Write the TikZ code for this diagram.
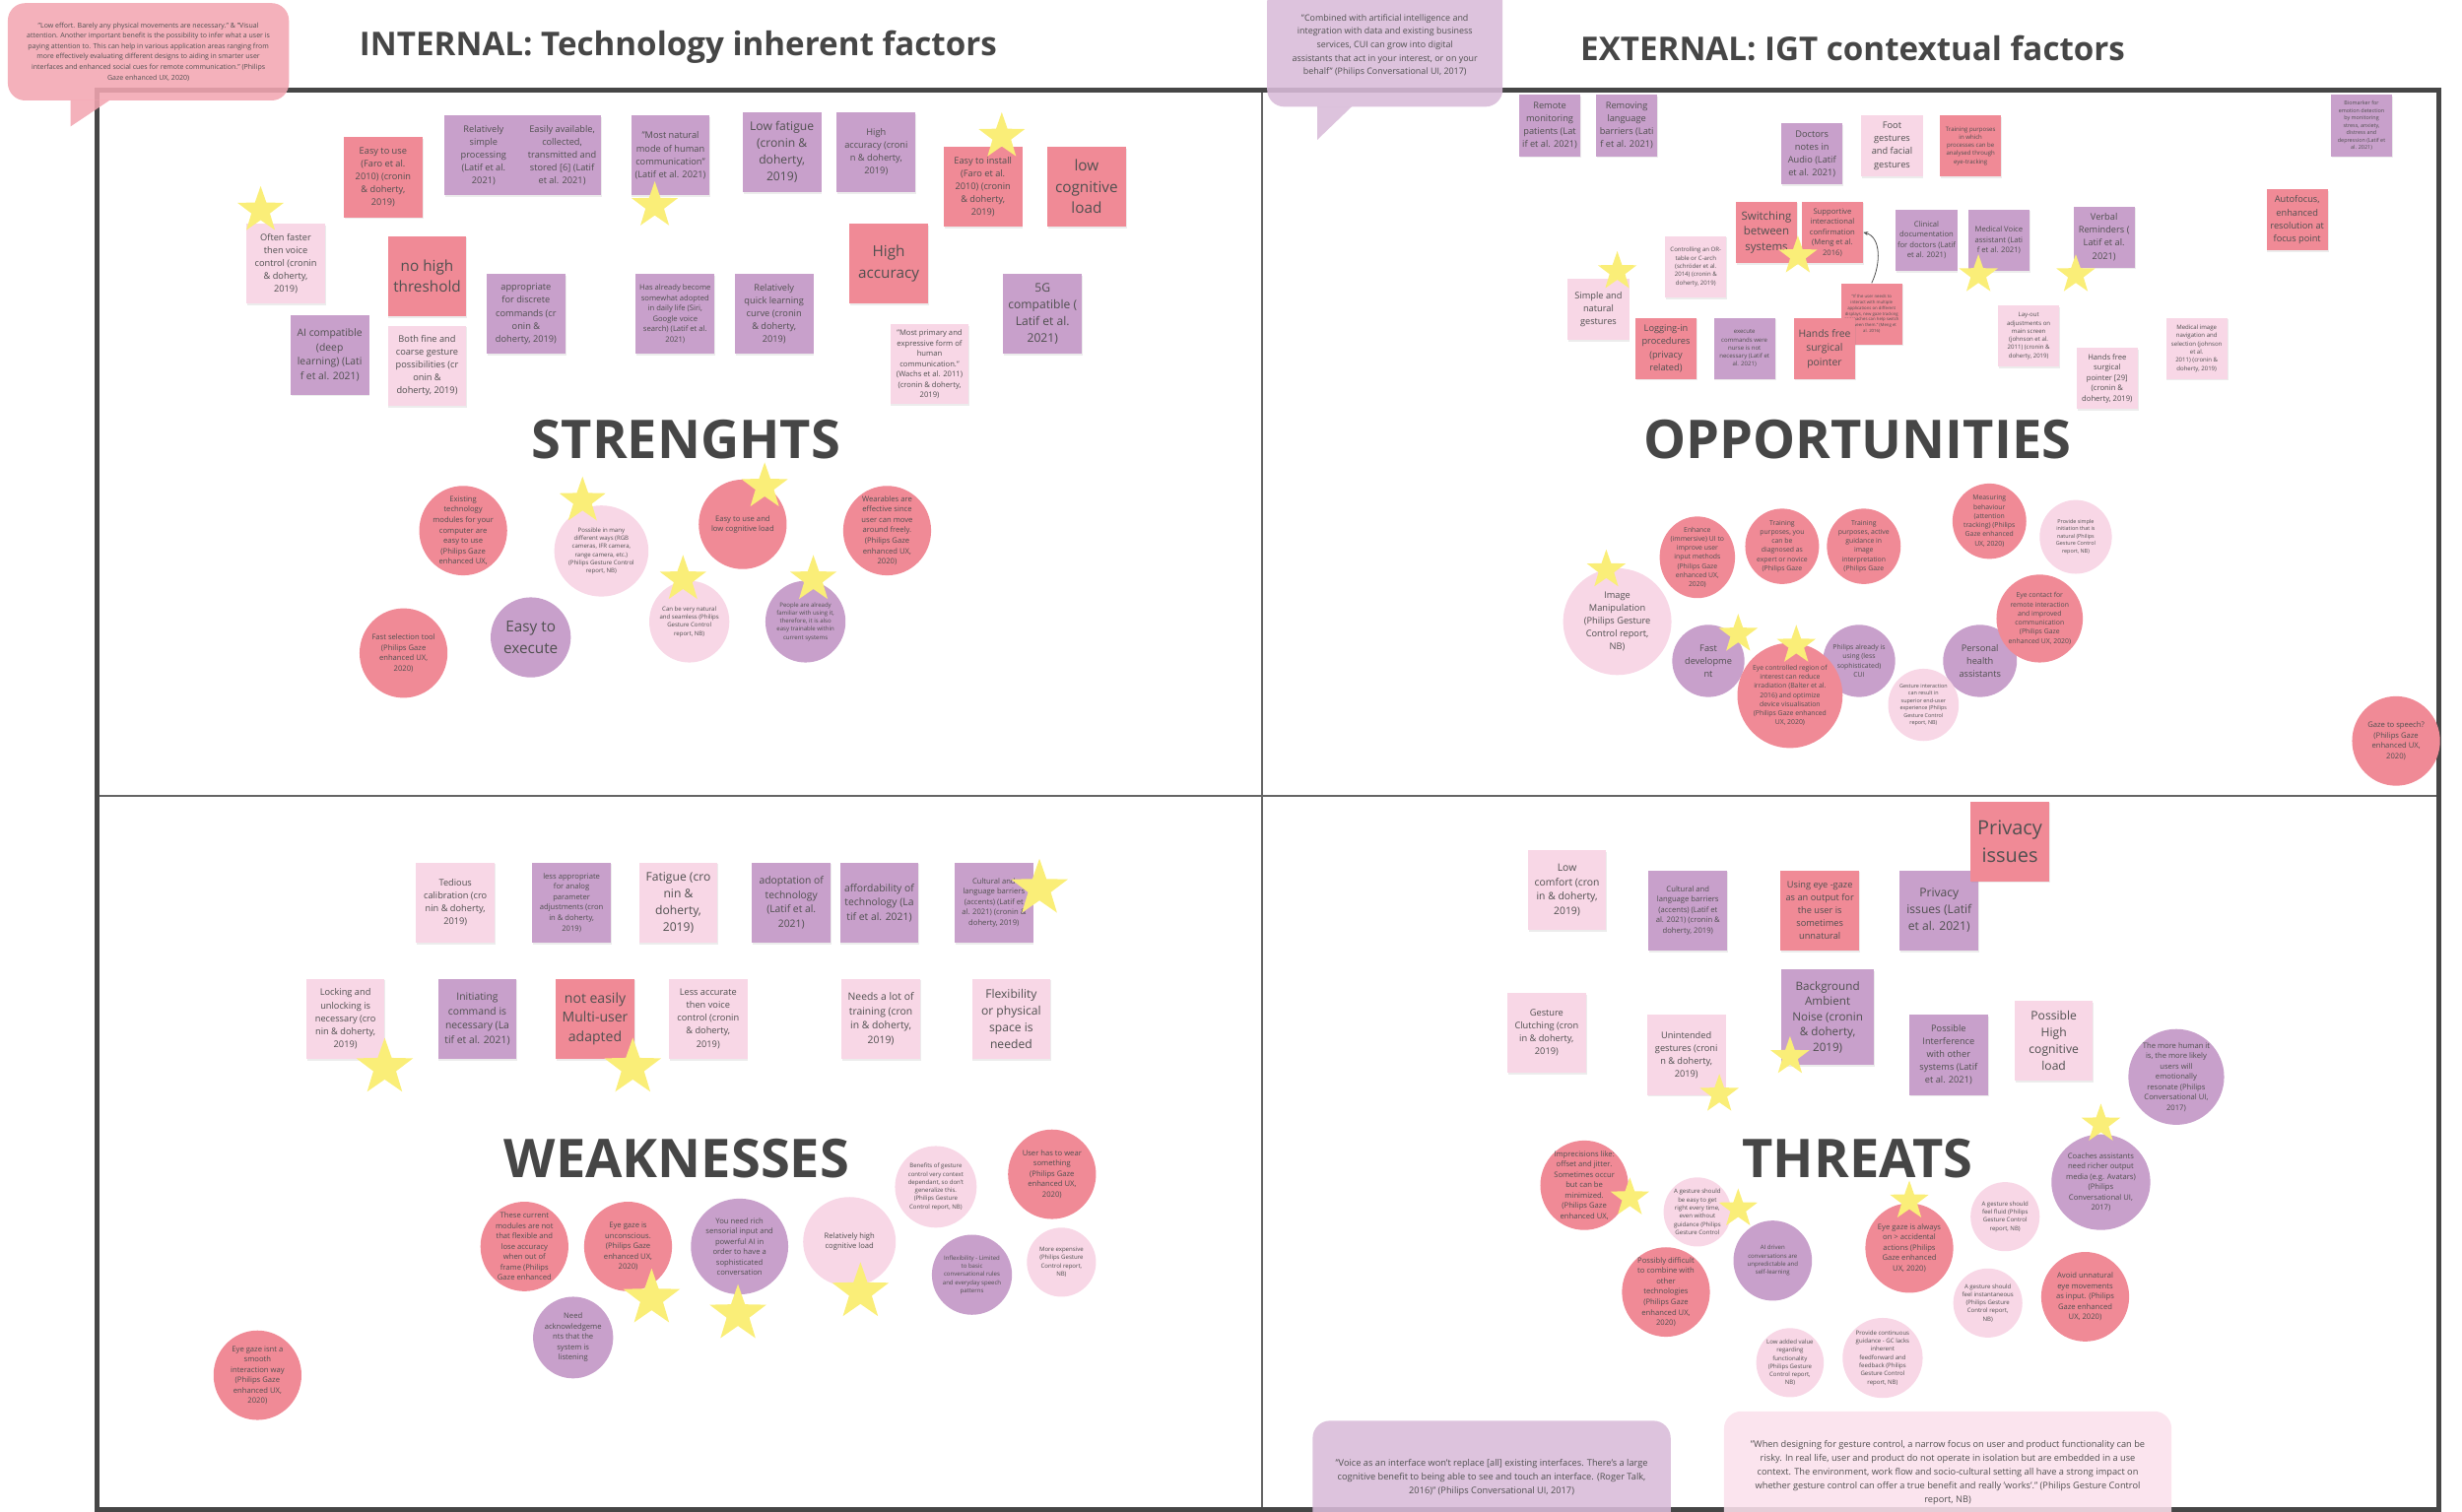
\documentclass[tikz,border=0pt]{standalone}
\usepackage{fontspec}
\setmainfont{Open Sans}
\usepackage{tikz}
\usepackage{xcolor}
\usetikzlibrary{shapes,arrows.meta,positioning,shadows,calc}
\definecolor{cPink}{RGB}{240,138,150}
\definecolor{cLight}{RGB}{248,215,230}
\definecolor{cPurple}{RGB}{200,160,203}
\definecolor{cYel}{RGB}{250,238,120}
\definecolor{ink}{RGB}{80,80,80}
\definecolor{frm}{RGB}{70,70,70}
\definecolor{cDiv}{RGB}{100,100,100}
\definecolor{cBubPk}{RGB}{243,166,178}
\definecolor{cBubPu}{RGB}{216,187,216}
\definecolor{cBubLp}{RGB}{251,224,236}

\tikzset{
  fmicro/.style={font=\fontsize{2.7}{3.6}\selectfont},
  fxs/.style={font=\fontsize{3.4}{4.7}\selectfont},
  ftiny/.style={font=\fontsize{3.8}{5.2}\selectfont},
  fsm/.style={font=\fontsize{4.3}{5.8}\selectfont},
  fsmall/.style={font=\fontsize{4.8}{6.6}\selectfont},
  fnorm/.style={font=\fontsize{5.8}{8.2}\selectfont},
  fmid/.style={font=\fontsize{6.5}{9.1}\selectfont},
  fbig/.style={font=\fontsize{7.6}{10.7}\selectfont},
  fhuge/.style={font=\fontsize{9.6}{13.5}\selectfont},
  fgiant/.style={font=\fontsize{12.5}{17.5}\selectfont},
  pk/.style={fill=cPink},
  lp/.style={fill=cLight},
  pu/.style={fill=cPurple},
  note/.style={rectangle, minimum width=50pt, minimum height=51pt, inner sep=0pt,
    align=center, text=ink,
    drop shadow={shadow xshift=0.5pt, shadow yshift=-1pt, opacity=0.15}},
  snote/.style={note, minimum width=39pt, minimum height=39pt},
  blob/.style={ellipse, minimum width=56pt, minimum height=57pt, inner sep=-20pt,
    align=center, text=ink},
  strs/.style={star, star points=5, star point ratio=2.5, fill=cYel, draw=none,
    inner sep=0pt, minimum size=31pt},
  sstar/.style={strs, minimum size=26pt},
  bstar/.style={strs, minimum size=38pt},
  head/.style={font=\fontsize{20.8}{24}\selectfont\bfseries, text=frm},
  ttl/.style={font=\fontsize{34}{40}\selectfont\bfseries, text=frm},
  bub/.style={rectangle, rounded corners=11pt, inner sep=0pt, align=center,
    text=ink, fill opacity=0.88, text opacity=1}
}

\begin{document}
\begin{tikzpicture}[x=1pt, y=-1pt]
\useasboundingbox (0,0) rectangle (1568,963);

% frame
\draw[cDiv, line width=1.3pt] (803.5,57.5) -- (803.5,961.5);
\draw[cDiv, line width=1.3pt] (62,507) -- (1553,507);
\draw[frm, line width=3pt] (62,57.5) rectangle (1553,961.5);

% headings
\node[head] (hint) at (432,30) {INTERNAL: Technology inherent factors};
\node[head] (hext) at (1180,31) {EXTERNAL: IGT contextual factors};

% Strengths
\node[note, pk, fnorm] (s1) at (244,113) {Easy to use\\(Faro et al.\\2010) (cronin\\\& doherty,\\2019)};
\node[note, pu, fnorm] (s2) at (308,99) {Relatively\\simple\\processing\\(Latif et al.\\2021)};
\node[note, pu, fnorm] (s3) at (358,99) {Easily available,\\collected,\\transmitted and\\stored [6] (Latif\\et al. 2021)};
\node[note, pu, fnorm] (s4) at (427,99) {"Most natural\\mode of human\\communication"\\(Latif et al. 2021)};
\node[note, pu, fbig] (s5) at (498,97) {Low fatigue\\(cronin \&\\doherty,\\2019)};
\node[note, pu, fnorm] (s6) at (558,97) {High\\accuracy (croni\\n \& doherty,\\2019)};
\node[note, pk, fnorm] (s7) at (626,119) {Easy to install\\(Faro et al.\\2010) (cronin\\\& doherty,\\2019)};
\node[note, pk, fhuge] (s8) at (692,119) {low\\cognitive\\load};
\node[note, pk, fhuge] (s9) at (566,168) {High\\accuracy};
\node[note, lp, fnorm] (s10) at (182,168) {Often faster\\then voice\\control (cronin\\\& doherty,\\2019)};
\node[note, pk, fhuge] (s11) at (272,176) {no high\\threshold};
\node[note, pu, fnorm] (s12) at (335,200) {appropriate\\for discrete\\commands (cr\\onin \&\\doherty, 2019)};
\node[note, pu, fsmall] (s13) at (430,200) {Has already become\\somewhat adopted\\in daily life (Siri,\\Google voice\\search) (Latif et al.\\2021)};
\node[note, pu, fnorm] (s14) at (493,200) {Relatively\\quick learning\\curve (cronin\\\& doherty,\\2019)};
\node[note, pu, fbig] (s15) at (664,200) {5G\\compatible (\\Latif et al.\\2021)};
\node[note, pu, fmid] (s16) at (210,226) {AI compatible\\(deep\\learning) (Lati\\f et al. 2021)};
\node[note, lp, fnorm] (s17) at (272,233) {Both fine and\\coarse gesture\\possibilities (cr\\onin \&\\doherty, 2019)};
\node[note, lp, fsmall] (s18) at (592,232) {"Most primary and\\expressive form of\\human\\communication."\\(Wachs et al. 2011)\\(cronin \& doherty,\\2019)};

\node[blob, pk, fsmall] (c1) at (295,338) {Existing\\technology\\modules for your\\computer are\\easy to use\\(Philips Gaze\\enhanced UX,};
\node[blob, lp, ftiny, minimum width=60pt, minimum height=58pt] (c2) at (383,351) {Possible in many\\different ways (RGB\\cameras, IFR camera,\\range camera, etc.)\\(Philips Gesture Control\\report, NB)};
\node[blob, pk, fsmall] (c3) at (473,334) {Easy to use and\\low cognitive load};
\node[blob, pk, fsmall] (c4) at (565,338) {Wearables are\\effective since\\user can move\\around freely.\\(Philips Gaze\\enhanced UX,\\2020)};
\node[blob, pk, fsmall] (c5) at (257,416) {Fast selection tool\\(Philips Gaze\\enhanced UX,\\2020)};
\node[blob, pu, fhuge, minimum width=51pt, minimum height=51pt] (c6) at (338,406) {Easy to\\execute};
\node[blob, lp, ftiny, minimum width=51pt, minimum height=52pt] (c7) at (439,396) {Can be very natural\\and seamless (Philips\\Gesture Control\\report, NB)};
\node[blob, pu, ftiny, minimum width=51pt, minimum height=52pt] (c8) at (513,396) {People are already\\familiar with using it,\\therefore, it is also\\easy trainable within\\current systems};

\node[strs] (st1) at (166,134) {};
\node[strs] (st2) at (417,131) {};
\node[strs] (st3) at (638,87) {};
\node[strs] (st4) at (371,319) {};
\node[strs] (st5) at (487,310) {};
\node[strs] (st6) at (435,369) {};
\node[strs] (st7) at (518,369) {};
\node[ttl] (tS) at (437,280) {STRENGHTS};

% Opportunities
\node[snote, pu, fnorm] (o1) at (987,80) {Remote\\monitoring\\patients (Lat\\if et al. 2021)};
\node[snote, pu, fnorm] (o2) at (1036,80) {Removing\\language\\barriers (Lati\\f et al. 2021)};
\node[snote, pu, fnorm] (o3) at (1154,98) {Doctors\\notes in\\Audio (Latif\\et al. 2021)};
\node[snote, lp, fnorm] (o4) at (1205,93) {Foot\\gestures\\and facial\\gestures};
\node[snote, pk, ftiny] (o5) at (1255,93) {Training purposes\\in which\\processes can be\\analysed through\\eye-tracking};
\node[snote, pu, fxs] (o6) at (1504,80) {Biomarker for\\emotion detection\\by monitoring\\stress, anxiety,\\distress and\\depression (Latif et\\al. 2021)};
\node[snote, pk, fnorm] (o7) at (1463,140) {Autofocus,\\enhanced\\resolution at\\focus point};
\node[snote, pk, font=\fontsize{7.2}{9.8}\selectfont] (o8) at (1125,148) {Switching\\between\\systems};
\node[snote, pk, fsmall] (o9) at (1167,148) {Supportive\\interactional\\confirmation\\(Meng et al.\\2016)};
\node[snote, lp, ftiny] (o10) at (1080,170) {Controlling an OR-\\table or C-arch\\(schröder et al.\\2014) (cronin \&\\doherty, 2019)};
\node[snote, lp, fnorm] (o11) at (1018,197) {Simple and\\natural\\gestures};
\node[snote, pu, fsmall] (o12) at (1227,153) {Clinical\\documentation\\for doctors (Latif\\et al. 2021)};
\node[snote, pu, fsmall] (o13) at (1273,153) {Medical Voice\\assistant (Lati\\f et al. 2021)};
\node[snote, pu, fnorm] (o14) at (1340,151) {Verbal\\Reminders (\\Latif et al.\\2021)};
\node[snote, pk, fmicro] (o15) at (1192,200) {"If the user needs to\\interact with multiple\\applications on different\\displays, new gaze tracking\\approaches can help switch\\between them." (Meng et\\al. 2016)};
\node[snote, pk, fnorm] (o16) at (1061,222) {Logging-in\\procedures\\(privacy\\related)};
\node[snote, pu, ftiny] (o17) at (1111,222) {execute\\commands were\\nurse is not\\necessary (Latif et\\al. 2021)};
\node[snote, pk, fmid] (o18) at (1162,222) {Hands free\\surgical\\pointer};
\node[snote, lp, ftiny] (o19) at (1292,214) {Lay-out\\adjustments on\\main screen\\(johnson et al.\\2011) (cronin \&\\doherty, 2019)};
\node[snote, lp, fsmall] (o20) at (1342,241) {Hands free\\surgical\\pointer [29]\\(cronin \&\\doherty, 2019)};
\node[snote, lp, ftiny] (o21) at (1399,222) {Medical image\\navigation and\\selection (johnson\\et al.\\2011) (cronin \&\\doherty, 2019)};
\draw[ink, line width=0.5pt, -{Stealth[length=3pt, width=2.5pt]}] (o15.north) .. controls (1198,168) and (1198,151) .. (o9.east);

\node[blob, lp, fnorm, minimum width=69pt, minimum height=68pt] (oc1) at (1030,396) {Image\\Manipulation\\(Philips Gesture\\Control report,\\NB)};
\node[blob, pk, fsm, minimum width=48pt, minimum height=52pt] (oc2) at (1081,355) {Enhance\\(immersive) UI to\\improve user\\input methods\\(Philips Gaze\\enhanced UX,\\2020)};
\node[blob, pk, fsm, minimum width=47pt, minimum height=48pt] (oc3) at (1135,348) {Training\\purposes, you\\can be\\diagnosed as\\expert or novice\\(Philips Gaze};
\node[blob, pk, fsm, minimum width=47pt, minimum height=48pt] (oc4) at (1187,348) {Training\\purposes, active\\guidance in\\image\\interpretation\\(Philips Gaze};
\node[blob, pk, fsm, minimum width=47pt, minimum height=48pt] (oc5) at (1267,332) {Measuring\\behaviour\\(attention\\tracking) (Philips\\Gaze enhanced\\UX, 2020)};
\node[blob, lp, fxs, minimum width=46pt, minimum height=47pt] (oc6) at (1322,342) {Provide simple\\initiation that is\\natural (Philips\\Gesture Control\\report, NB)};
\node[blob, pu, fnorm, minimum width=46pt, minimum height=46pt] (oc7) at (1088,421) {Fast\\developme\\nt};
\node[blob, pu, fsm, minimum width=46pt, minimum height=46pt] (oc9) at (1184,421) {Philips already is\\using (less\\sophisticated)\\CUI};
\node[blob, pk, fsm, minimum width=67pt, minimum height=67pt] (oc8) at (1140,443) {Eye controlled region of\\interest can reduce\\irradiation (Balter et al.\\2016) and optimize\\device visualisation\\(Philips Gaze enhanced\\UX, 2020)};
\node[blob, pu, fnorm, minimum width=47pt, minimum height=46pt] (oc11) at (1261,421) {Personal\\health\\assistants};
\node[blob, lp, fxs, minimum width=45pt, minimum height=46pt] (oc10) at (1225,449) {Gesture interaction\\can result in\\superior end-user\\experience (Philips\\Gesture Control\\report, NB)};
\node[blob, pk, fsm, minimum width=55pt, minimum height=56pt] (oc12) at (1299,394) {Eye contact for\\remote interaction\\and improved\\communication\\(Philips Gaze\\enhanced UX, 2020)};
\node[blob, pk, fsmall] (oc13) at (1526,472) {Gaze to speech?\\(Philips Gaze\\enhanced UX,\\2020)};

\node[sstar] (so1) at (1030,173) {};
\node[sstar] (so2) at (1145,163) {};
\node[sstar] (so3) at (1260,175) {};
\node[sstar] (so4) at (1322,175) {};
\node[sstar] (so5) at (1023,363) {};
\node[sstar] (so6) at (1107,404) {};
\node[sstar] (so7) at (1144,411) {};
\node[ttl] (tO) at (1183,280) {OPPORTUNITIES};

% Weaknesses
\node[note, lp, fnorm] (w1) at (290,575) {Tedious\\calibration (cro\\nin \& doherty,\\2019)};
\node[note, pu, fsmall] (w2) at (364,575) {less appropriate\\for analog\\parameter\\adjustments (cron\\in \& doherty,\\2019)};
\node[note, lp, fbig] (w3) at (432,575) {Fatigue (cro\\nin \&\\doherty,\\2019)};
\node[note, pu, fmid] (w4) at (504,575) {adoptation of\\technology\\(Latif et al.\\2021)};
\node[note, pu, fmid] (w5) at (560,575) {affordability of\\technology (La\\tif et al. 2021)};
\node[note, pu, fsmall] (w6) at (633,575) {Cultural and\\language barriers\\(accents) (Latif et\\al. 2021) (cronin \&\\doherty, 2019)};
\node[note, lp, fnorm] (w7) at (220,649) {Locking and\\unlocking is\\necessary (cro\\nin \& doherty,\\2019)};
\node[note, pu, fmid] (w8) at (304,649) {Initiating\\command is\\necessary (La\\tif et al. 2021)};
\node[note, pk, font=\fontsize{8.8}{12}\selectfont] (w9) at (379,649) {not easily\\Multi-user\\adapted};
\node[note, lp, fnorm] (w10) at (451,649) {Less accurate\\then voice\\control (cronin\\\& doherty,\\2019)};
\node[note, lp, fmid] (w11) at (561,649) {Needs a lot of\\training (cron\\in \& doherty,\\2019)};
\node[note, lp, fbig] (w12) at (644,649) {Flexibility\\or physical\\space is\\needed};

\node[blob, pk, fsmall] (wc1) at (334,794) {These current\\modules are not\\that flexible and\\lose accuracy\\when out of\\frame (Philips\\Gaze enhanced};
\node[blob, pk, fsmall] (wc2) at (400,794) {Eye gaze is\\unconscious.\\(Philips Gaze\\enhanced UX,\\2020)};
\node[blob, pu, fsmall, minimum width=62pt, minimum height=61pt] (wc3) at (471,794) {You need rich\\sensorial input and\\powerful AI in\\order to have a\\sophisticated\\conversation};
\node[blob, lp, fsmall, minimum width=59pt, minimum height=57pt] (wc4) at (541,791) {Relatively high\\cognitive load};
\node[blob, pu, fsmall, minimum width=51pt, minimum height=52pt] (wc5) at (365,852) {Need\\acknowledgeme\\nts that the\\system is\\listening};
\node[blob, lp, ftiny, minimum width=52pt, minimum height=52pt] (wc6) at (596,756) {Benefits of gesture\\control very context\\dependant, so don't\\generalize this.\\(Philips Gesture\\Control report, NB)};
\node[blob, pk, fsmall] (wc7) at (670,748) {User has to wear\\something\\(Philips Gaze\\enhanced UX,\\2020)};
\node[blob, pu, ftiny, minimum width=51pt, minimum height=51pt] (wc8) at (619,812) {Inflexibility - Limited\\to basic\\conversational rules\\and everyday speech\\patterns};
\node[blob, lp, ftiny, minimum width=44pt, minimum height=44pt] (wc9) at (676,804) {More expensive\\(Philips Gesture\\Control report,\\NB)};
\node[blob, pk, fsmall] (wc10) at (164,876) {Eye gaze isnt a\\smooth\\interaction way\\(Philips Gaze\\enhanced UX,\\2020)};

\node[bstar] (sw1) at (662,566) {};
\node[bstar] (sw2) at (245,680) {};
\node[bstar] (sw3) at (403,680) {};
\node[bstar] (sw4) at (415,827) {};
\node[bstar] (sw5) at (470,837) {};
\node[bstar] (sw6) at (548,823) {};
\node[ttl] (tW) at (431,738) {WEAKNESSES};

% Threats
\node[note, lp, fmid] (t1) at (998,567) {Low\\comfort (cron\\in \& doherty,\\2019)};
\node[note, pu, fsmall] (t2) at (1075,580) {Cultural and\\language barriers\\(accents) (Latif et\\al. 2021) (cronin \&\\doherty, 2019)};
\node[note, pk, fnorm] (t3) at (1159,580) {Using eye -gaze\\as an output for\\the user is\\sometimes\\unnatural};
\node[note, pu, fbig] (t4) at (1235,580) {Privacy\\issues (Latif\\et al. 2021)};
\node[note, pk, fgiant] (t5) at (1280,536) {Privacy\\issues};
\node[note, lp, fnorm] (t6) at (985,658) {Gesture\\Clutching (cron\\in \& doherty,\\2019)};
\node[note, lp, fnorm] (t7) at (1074,672) {Unintended\\gestures (croni\\n \& doherty,\\2019)};
\node[note, pu, font=\fontsize{7.3}{9.7}\selectfont, minimum width=59pt, minimum height=61pt] (t8) at (1164,648) {Background\\Ambient\\Noise (cronin\\\& doherty,\\2019)};
\node[note, pu, fnorm] (t9) at (1241,672) {Possible\\Interference\\with other\\systems (Latif\\et al. 2021)};
\node[note, lp, fbig] (t10) at (1308,663) {Possible\\High\\cognitive\\load};

\node[blob, pu, fsmall, minimum width=61pt, minimum height=61pt] (tc1) at (1386,686) {The more human it\\is, the more likely\\users will\\emotionally\\resonate (Philips\\Conversational UI,\\2017)};
\node[blob, pu, fsmall, minimum width=63pt, minimum height=61pt] (tc2) at (1338,753) {Coaches assistants\\need richer output\\media (e.g. Avatars)\\(Philips\\Conversational UI,\\2017)};
\node[blob, pk, fsmall] (tc3) at (1009,755) {Imprecisions like:\\offset and jitter.\\Sometimes occur\\but can be\\minimized.\\(Philips Gaze\\enhanced UX,};
\node[blob, lp, ftiny, minimum width=43pt, minimum height=44pt] (tc4) at (1081,772) {A gesture should\\be easy to get\\right every time,\\even without\\guidance (Philips\\Gesture Control};
\node[blob, pu, ftiny, minimum width=50pt, minimum height=51pt] (tc5) at (1129,803) {AI driven\\conversations are\\unpredictable and\\self-learning};
\node[blob, pk, fsmall] (tc6) at (1061,823) {Possibly difficult\\to combine with\\other\\technologies\\(Philips Gaze\\enhanced UX,\\2020)};
\node[blob, pk, fsmall] (tc7) at (1216,795) {Eye gaze is always\\on > accidental\\actions (Philips\\Gaze enhanced\\UX, 2020)};
\node[blob, lp, ftiny, minimum width=44pt, minimum height=44pt] (tc8) at (1277,775) {A gesture should\\feel fluid (Philips\\Gesture Control\\report, NB)};
\node[blob, lp, ftiny, minimum width=44pt, minimum height=44pt] (tc9) at (1266,830) {A gesture should\\feel instantaneous\\(Philips Gesture\\Control report,\\NB)};
\node[blob, pk, fsmall] (tc10) at (1328,826) {Avoid unnatural\\eye movements\\as input. (Philips\\Gaze enhanced\\UX, 2020)};
\node[blob, lp, ftiny, minimum width=43pt, minimum height=44pt] (tc11) at (1140,868) {Low added value\\regarding\\functionality\\(Philips Gesture\\Control report,\\NB)};
\node[blob, lp, ftiny, minimum width=51pt, minimum height=51pt] (tc12) at (1199,865) {Provide continuous\\guidance - GC lacks\\inherent\\feedforward and\\feedback (Philips\\Gesture Control\\report, NB)};

\node[sstar] (sth1) at (1095,697) {};
\node[sstar] (sth2) at (1140,673) {};
\node[sstar] (sth3) at (1338,716) {};
\node[sstar] (sth4) at (1038,763) {};
\node[sstar] (sth5) at (1107,770) {};
\node[sstar] (sth6) at (1216,765) {};
\node[ttl] (tT) at (1183,738) {THREATS};

% quotes
\node[bub, fill=cBubPk, font=\fontsize{4.4}{6.6}\selectfont, minimum width=179pt, minimum height=62pt] (qgaze) at (94.5,33) {"Low effort. Barely any physical movements are necessary." \& "Visual\\attention. Another important benefit is the possibility to infer what a user is\\paying attention to. This can help in various application areas ranging from\\more effectively evaluating different designs to aiding in smarter user\\interfaces and enhanced social cues for remote communication." (Philips\\Gaze enhanced UX, 2020)};
\fill[cBubPk, fill opacity=0.88] (45,63.8) -- (70,63.8) -- (45,80.5) -- cycle;

\node[bub, fill=cBubPu, font=\fontsize{5.6}{8.6}\selectfont, minimum width=150pt, minimum height=78pt] (qcui) at (882,29) {"Combined with artificial intelligence and\\integration with data and existing business\\services, CUI can grow into digital\\assistants that act in your interest, or on your\\behalf" (Philips Conversational UI, 2017)};
\fill[cBubPu, fill opacity=0.88] (839,67.8) -- (861,67.8) -- (839,89) -- cycle;

\node[bub, fill=cBubPu, font=\fontsize{5.8}{8.8}\selectfont, minimum width=228pt, minimum height=72pt] (qvoice) at (950,941) {"Voice as an interface won't replace [all] existing interfaces. There's a large\\cognitive benefit to being able to see and touch an interface. (Roger Talk,\\2016)" (Philips Conversational UI, 2017)};
\node[bub, fill=cBubLp, font=\fontsize{5.8}{8.8}\selectfont, minimum width=285pt, minimum height=78pt] (qgest) at (1240.5,938) {"When designing for gesture control, a narrow focus on user and product functionality can be\\risky. In real life, user and product do not operate in isolation but are embedded in a use\\context. The environment, work flow and socio-cultural setting all have a strong impact on\\whether gesture control can offer a true benefit and really 'works'." (Philips Gesture Control\\report, NB)};
\end{tikzpicture}
\end{document}
